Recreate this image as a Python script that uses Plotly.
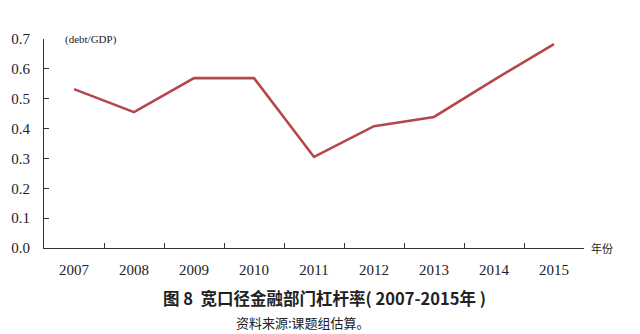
import plotly.graph_objects as go

years = ["2007", "2008", "2009", "2010", "2011", "2012", "2013", "2014", "2015"]
leverage = [0.532, 0.455, 0.569, 0.569, 0.305, 0.408, 0.439, 0.563, 0.683]
y_ticks = [0.0, 0.1, 0.2, 0.3, 0.4, 0.5, 0.6, 0.7]
y_tick_text = ["0.0", "0.1", "0.2", "0.3", "0.4", "0.5", "0.6", "0.7"]

serif = "Liberation Serif, Times New Roman, serif"
cjk = "Noto Sans CJK SC"

fig = go.Figure()
fig.add_trace(go.Scatter(
    x=years, y=leverage, mode="lines",
    line=dict(color="#B5474A", width=2.6),
    hoverinfo="skip",
))

fig.update_layout(
    width=640, height=334,
    margin=dict(l=44, r=56, t=39, b=86),
    paper_bgcolor="white", plot_bgcolor="white",
    showlegend=False,
    xaxis=dict(
        type="category",
        showline=True, linecolor="#333333", linewidth=1,
        ticks="inside", tickson="boundaries", ticklen=5, tickcolor="#333333",
        showgrid=False, zeroline=False,
        tickfont=dict(family=serif, size=15, color="#222222"),
        ticklabelstandoff=8,
        range=[-0.5, 8.5],
    ),
    yaxis=dict(
        range=[0, 0.7],
        tickvals=y_ticks, ticktext=y_tick_text,
        showline=True, linecolor="#333333", linewidth=1,
        ticks="inside", ticklen=5, tickcolor="#333333",
        showgrid=False, zeroline=False,
        tickfont=dict(family=serif, size=15, color="#222222"),
        ticklabelstandoff=10,
    ),
    annotations=[
        dict(text="(debt/GDP)", xref="paper", yref="paper", x=0.035, y=1.0,
             xanchor="left", yanchor="middle", showarrow=False,
             font=dict(family=serif, size=11, color="#222222")),
        dict(text="年份", xref="paper", yref="paper", x=1.01, y=0.0,
             xanchor="left", yanchor="middle", showarrow=False,
             font=dict(family=cjk, size=11, color="#222222")),
        dict(text="<b>图 8  宽口径金融部门杠杆率( 2007-2015年 )</b>", xref="paper", yref="paper",
             x=0.52, y=-0.24, xanchor="center", yanchor="middle", showarrow=False,
             font=dict(family=cjk, size=16.5, color="#222222")),
        dict(text="资料来源:课题组估算。", xref="paper", yref="paper",
             x=0.48, y=-0.355, xanchor="center", yanchor="middle", showarrow=False,
             font=dict(family=cjk, size=13, color="#222222")),
    ],
)

fig.write_html("out.html")
